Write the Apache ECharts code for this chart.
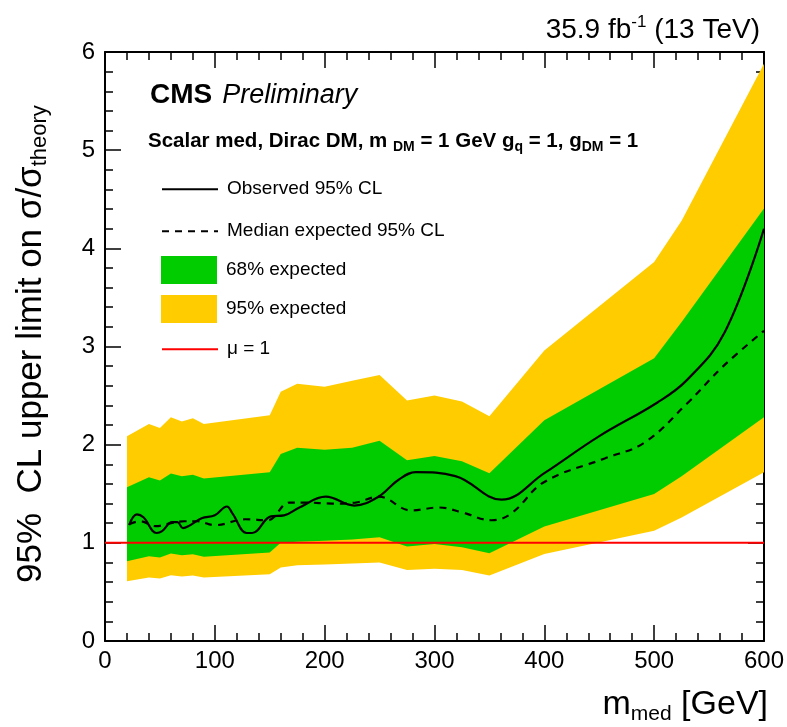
<!DOCTYPE html>
<html>
<head>
<meta charset="utf-8">
<script src="https://cdn.jsdelivr.net/npm/echarts@6/dist/echarts.min.js"></script>
<style>
html,body{margin:0;padding:0;background:#fff;}
#chart{width:787px;height:727px;}
</style>
</head>
<body>
<div id="chart"></div>
<script>
// ---- data ----
var bandMass = [20, 40, 50, 60, 70, 80, 90, 150, 160, 175, 200, 225, 250, 275, 300, 325, 350, 400, 500, 525, 600];
var exp95Up  = [2.085, 2.21, 2.17, 2.28, 2.235, 2.27, 2.21, 2.30, 2.54, 2.62, 2.59, 2.65, 2.71, 2.45, 2.50, 2.44, 2.29, 2.96, 3.86, 4.28, 5.88];
var exp68Up  = [1.565, 1.667, 1.636, 1.707, 1.677, 1.694, 1.656, 1.718, 1.905, 1.969, 1.949, 1.969, 2.04, 1.84, 1.885, 1.83, 1.71, 2.25, 2.88, 3.25, 4.405];
var exp68Dn  = [0.813, 0.864, 0.85, 0.891, 0.874, 0.884, 0.857, 0.901, 1.0, 1.01, 1.02, 1.035, 1.058, 0.963, 0.987, 0.956, 0.895, 1.167, 1.497, 1.677, 2.28];
var exp95Dn  = [0.609, 0.646, 0.636, 0.67, 0.656, 0.666, 0.646, 0.68, 0.748, 0.772, 0.78, 0.79, 0.80, 0.724, 0.735, 0.724, 0.667, 0.885, 1.122, 1.259, 1.718];

var expMass  = [22, 32, 46, 60, 72, 84, 100, 128, 148, 168, 183, 207, 228, 249, 279, 304, 325, 352, 370, 400, 455, 491, 530, 563, 600];
var expVal   = [1.19, 1.22, 1.17, 1.20, 1.22, 1.22, 1.18, 1.24, 1.23, 1.41, 1.41, 1.40, 1.41, 1.47, 1.33, 1.36, 1.31, 1.23, 1.30, 1.62, 1.86, 2.02, 2.42, 2.80, 3.16];

var obsMass  = [22, 29, 35, 47, 52, 61, 66, 71, 76, 88, 100, 111, 116, 129, 134, 151, 163, 177, 201, 227, 249, 267, 283, 319, 361, 400, 449, 503, 530, 564, 600];
var obsVal   = [1.18, 1.29, 1.26, 1.10, 1.12, 1.21, 1.21, 1.15, 1.17, 1.25, 1.28, 1.37, 1.30, 1.10, 1.10, 1.27, 1.28, 1.36, 1.47, 1.38, 1.47, 1.64, 1.72, 1.68, 1.44, 1.71, 2.08, 2.43, 2.66, 3.14, 4.20];

var muMass = [0, 600];
var muVal  = [1, 1];

var xTicks = [0, 100, 200, 300, 400, 500, 600];
var yTicks = [0, 1, 2, 3, 4, 5, 6];

var legendNames = ['Observed 95% CL', 'Median expected 95% CL', '68% expected', '95% expected', 'μ = 1'];

// ---- build library inputs ----
function pairs(xs, ys) { return xs.map(function (x, i) { return [x, ys[i]]; }); }
function bandData(xs, lo, hi) { return xs.map(function (x, i) { return [x, lo[i], hi[i]]; }); }
function makeBand(name, xs, lo, hi, color, z) {
  var d = bandData(xs, lo, hi);
  return {
    name: name, type: 'custom', coordinateSystem: 'cartesian2d', data: d,
    encode: {x: 0, y: [1, 2]},
    itemStyle: {color: color}, silent: true, z: z, clip: true,
    renderItem: function (params, api) {
      if (params.dataIndex !== 0) return null;
      var pts = [], i;
      for (i = 0; i < d.length; i++) pts.push(api.coord([d[i][0], d[i][2]]));
      for (i = d.length - 1; i >= 0; i--) pts.push(api.coord([d[i][0], d[i][1]]));
      return {type: 'polygon', shape: {points: pts}, style: {fill: api.visual('color')}, silent: true};
    }
  };
}

var YELLOW = '#ffcc00', GREEN = '#00cc00', RED = '#ff0000';
var FONT = 'Liberation Sans, Helvetica, Arial, sans-serif';

var chart = echarts.init(document.getElementById('chart'), null, {renderer: 'canvas'});

var axisCommon = {
  axisLine: {show: true, onZero: false, lineStyle: {color: '#000', width: 2}},
  axisTick: {show: true, inside: true, length: 16, lineStyle: {color: '#000', width: 1.5}},
  minorTick: {show: true, splitNumber: 5, length: 8, lineStyle: {color: '#000', width: 1.5}},
  splitLine: {show: false},
  minorSplitLine: {show: false}
};

var legendTops = [178, 220, 256, 295, 338];
var legends = legendNames.map(function (nm, i) {
  var item = {name: nm};
  if (i === 2 || i === 3) item.icon = 'rect'; else item.itemStyle = {opacity: 0};
  return {
    orient: 'vertical', left: 161, top: legendTops[i], padding: 0,
    itemWidth: 56, itemHeight: 28, selectedMode: false,
    textStyle: {fontSize: 19, fontFamily: FONT, color: '#000', padding: [0, 0, 0, 4]},
    data: [item]
  };
});

var option = {
  animation: false,
  backgroundColor: '#fff',
  grid: {left: 105, right: 20, top: 52, bottom: 86, containLabel: false},
  xAxis: [
    Object.assign({
      type: 'value', min: xTicks[0], max: xTicks[xTicks.length - 1], interval: 100, position: 'bottom',
      axisLabel: {show: true, color: '#000', fontSize: 24, fontFamily: FONT, margin: 8,
        formatter: function (v) { return xTicks.indexOf(v) >= 0 ? String(v) : ''; }}
    }, axisCommon),
    Object.assign({
      type: 'value', min: 0, max: 600, interval: 100, position: 'top',
      axisLabel: {show: false}
    }, axisCommon)
  ],
  yAxis: [
    Object.assign({
      type: 'value', min: yTicks[0], max: yTicks[yTicks.length - 1], interval: 1, position: 'left',
      axisLabel: {show: true, color: '#000', fontSize: 24, fontFamily: FONT, margin: 10,
        formatter: function (v) { return yTicks.indexOf(v) >= 0 ? String(v) : ''; }}
    }, axisCommon),
    Object.assign({
      type: 'value', min: 0, max: 6, interval: 1, position: 'right',
      axisLabel: {show: false}
    }, axisCommon)
  ],
  legend: legends,
  series: [
    makeBand('95% expected', bandMass, exp95Dn, exp95Up, YELLOW, 1),
    makeBand('68% expected', bandMass, exp68Dn, exp68Up, GREEN, 2),
    {name: 'μ = 1', type: 'line', data: pairs(muMass, muVal), symbol: 'none',
      itemStyle: {color: RED}, lineStyle: {color: RED, width: 2}, z: 3},
    {name: 'Median expected 95% CL', type: 'line', data: pairs(expMass, expVal), symbol: 'none', smooth: 0.4,
      itemStyle: {color: '#000'}, lineStyle: {color: '#000', width: 2.2, type: [7, 6]}, z: 4},
    {name: 'Observed 95% CL', type: 'line', data: pairs(obsMass, obsVal), symbol: 'none', smooth: 0.4,
      itemStyle: {color: '#000'}, lineStyle: {color: '#000', width: 2.2}, z: 5}
  ],
  graphic: [
    {type: 'text', x: 760, y: 30, z: 100, style: {
      text: '{n|35.9 fb}{s|-1}{n| (13 TeV)}', align: 'right', verticalAlign: 'middle',
      rich: {n: {fontSize: 28, fontFamily: FONT, color: '#000', lineHeight: 32},
             s: {fontSize: 17, fontFamily: FONT, color: '#000', verticalAlign: 'top', lineHeight: 16}}}},
    {type: 'text', x: 150, y: 95, z: 100, style: {
      text: '{b|CMS}{i|Preliminary}', align: 'left', verticalAlign: 'middle',
      rich: {b: {fontSize: 28, fontWeight: 'bold', fontFamily: FONT, color: '#000'},
             i: {fontSize: 27, fontStyle: 'italic', fontFamily: FONT, color: '#000', padding: [0, 0, 0, 10]}}}},
    {type: 'text', x: 148, y: 141, z: 100, style: {
      text: '{m|Scalar med, Dirac DM, m }{s|DM}{m| = 1 GeV g}{s|q}{m| = 1, g}{s|DM}{m| = 1}', align: 'left', verticalAlign: 'middle',
      rich: {m: {fontSize: 20.5, fontWeight: 'bold', fontFamily: FONT, color: '#000', lineHeight: 26},
             s: {fontSize: 14, fontWeight: 'bold', fontFamily: FONT, color: '#000', verticalAlign: 'bottom', lineHeight: 9}}}},
    {type: 'text', x: 31, y: 583, rotation: Math.PI / 2, z: 100, style: {
      text: '{m|95%  CL upper limit on σ/σ}{s|theory}', align: 'left', verticalAlign: 'middle',
      rich: {m: {fontSize: 35, fontFamily: FONT, color: '#000', lineHeight: 40},
             s: {fontSize: 22, fontFamily: FONT, color: '#000', verticalAlign: 'bottom', lineHeight: 12}}}},
    {type: 'text', x: 768, y: 705, z: 100, style: {
      text: '{m|m}{s|med}{m| [GeV]}', align: 'right', verticalAlign: 'middle',
      rich: {m: {fontSize: 34, fontFamily: FONT, color: '#000', lineHeight: 40},
             s: {fontSize: 21, fontFamily: FONT, color: '#000', verticalAlign: 'bottom', lineHeight: 12}}}}
  ]
};
chart.setOption(option);
</script>
</body>
</html>
